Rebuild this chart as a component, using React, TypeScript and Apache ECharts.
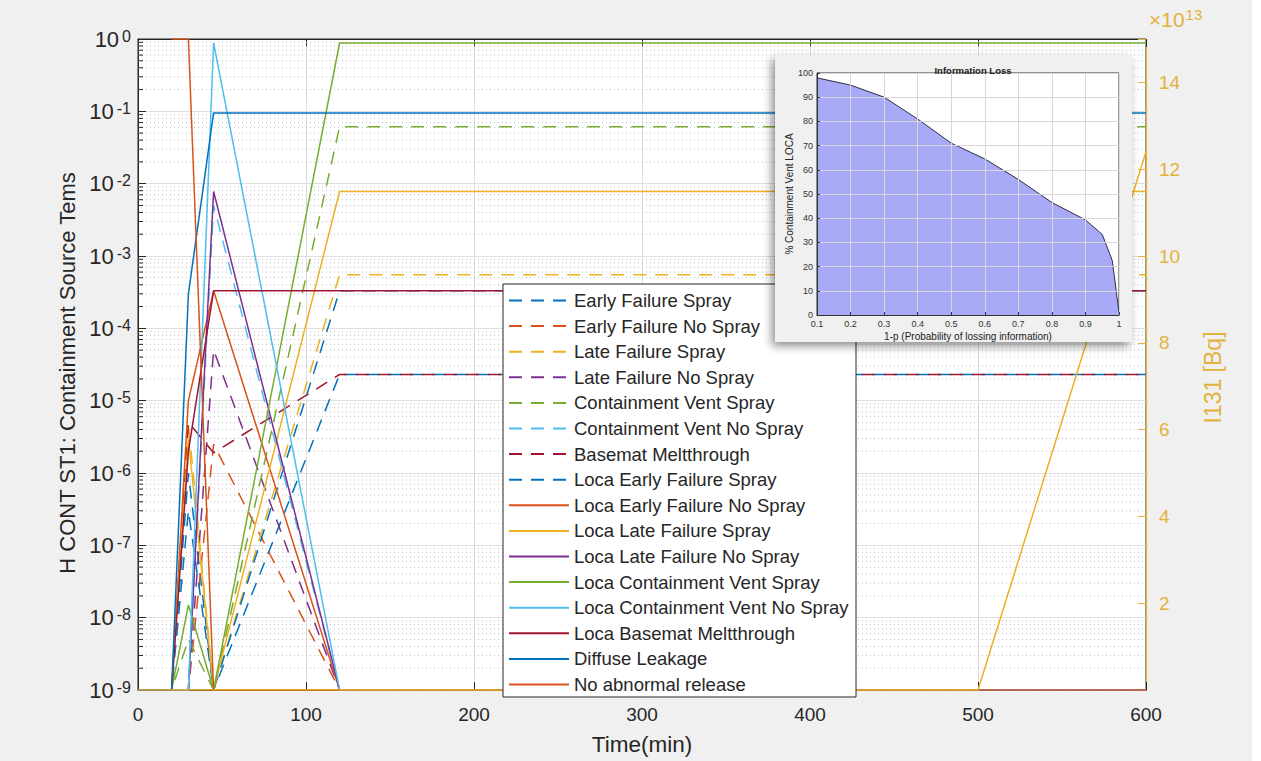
import React, { useEffect, useRef } from 'react';
import * as echarts from 'echarts';

const FONT = '"Liberation Sans", Arial, Helvetica, sans-serif';

// ---- main chart data (time in minutes) ----
const times = [0, 20, 30, 45, 120, 600];
const earlyFailureSpray = [1e-9, 1e-9, 1e-6, 1e-9, 2.3e-5, 2.3e-5];
const earlyFailureNoSpray = [1e-9, 1e-9, 1e-9, 2.5e-6, 1e-9, 1e-9];
const lateFailureSpray = [1e-9, 1e-9, 5e-6, 1e-9, 5.5e-4, 5.5e-4];
const lateFailureNoSpray = [1e-9, 1e-9, 1e-9, 5e-5, 1e-9, 1e-9];
const containmentVentSpray = [1e-9, 1e-9, 5e-9, 1e-9, 0.061, 0.061];
const containmentVentNoSpray = [1e-9, 1e-9, 1e-9, 0.005, 1e-9, 1e-9];
const basematMeltthrough = [1e-9, 1e-9, 5e-6, 1.9e-6, 2.3e-5, 2.3e-5];
const locaEarlyFailureSpray = [1e-9, 1e-9, 3e-7, 1e-9, 3.3e-4, 3.3e-4];
const locaEarlyFailureNoSpray = [1e-9, 1e-9, 1e-5, 3.3e-4, 1e-9, 1e-9];
const locaLateFailureSpray = [1e-9, 1e-9, 3e-6, 1e-9, 0.0078, 0.0078];
const locaLateFailureNoSpray = [1e-9, 1e-9, 1e-9, 0.0078, 1e-9, 1e-9];
const locaContainmentVentSpray = [1e-9, 1e-9, 1.5e-8, 1e-9, 0.88, 0.88];
const locaContainmentVentNoSpray = [1e-9, 1e-9, 1e-9, 0.88, 1e-9, 1e-9];
const locaBasematMeltthrough = [1e-9, 1e-9, 2e-6, 3.3e-4, 3.3e-4, 3.3e-4];
const diffuseLeakage = [1e-9, 1e-9, 3e-4, 0.095, 0.095, 0.095];
const noAbnormalRelease = [null, 1, 1, 1e-9, 1e-9, 1e-9];

const seriesNames = [
  'Early Failure Spray',
  'Early Failure No Spray',
  'Late Failure Spray',
  'Late Failure No Spray',
  'Containment Vent Spray',
  'Containment Vent No Spray',
  'Basemat Meltthrough',
  'Loca Early Failure Spray',
  'Loca Early Failure No Spray',
  'Loca Late Failure Spray',
  'Loca Late Failure No Spray',
  'Loca Containment Vent Spray',
  'Loca Containment Vent No Spray',
  'Loca Basemat Meltthrough',
  'Diffuse Leakage',
  'No abnormal release',
];
const seriesValues = [
  earlyFailureSpray,
  earlyFailureNoSpray,
  lateFailureSpray,
  lateFailureNoSpray,
  containmentVentSpray,
  containmentVentNoSpray,
  basematMeltthrough,
  locaEarlyFailureSpray,
  locaEarlyFailureNoSpray,
  locaLateFailureSpray,
  locaLateFailureNoSpray,
  locaContainmentVentSpray,
  locaContainmentVentNoSpray,
  locaBasematMeltthrough,
  diffuseLeakage,
  noAbnormalRelease,
];
const seriesDashed = [true, true, true, true, true, true, true, true, false, false, false, false, false, false, false, false];

// right axis: I131 [Bq]
const i131Times = [0, 500, 600];
const i131Values = [0, 0, 1.24e14];

// inset: Information Loss
const lossX = [0.1, 0.2, 0.3, 0.4, 0.5, 0.6, 0.7, 0.8, 0.9, 0.95, 0.98, 1.0];
const lossY = [98, 95, 90, 81, 71, 64.5, 56, 46.5, 39.3, 33.3, 22.5, 1];

// log-axis minor grid positions
const minorMultipliers = [2, 3, 4, 5, 6, 7, 8, 9];
const decades = [-9, -8, -7, -6, -5, -4, -3, -2, -1];

const matlabColors = ['#0072BD', '#D95319', '#EDB120', '#7E2F8E', '#77AC30', '#4DBEEE', '#A2142F'];
const AXIS = '#262626';
const YELLOW = '#E3B23C';

export default function App() {
  const ref = useRef<HTMLDivElement>(null);
  useEffect(() => {
    const chart = echarts.init(ref.current!, null, { renderer: 'svg' });

    const minorValues: number[] = [];
    decades.forEach((d) => minorMultipliers.forEach((m) => minorValues.push(m * Math.pow(10, d))));

    const minorGridData: any[] = [];
    const minorTickData: any[] = [];
    minorValues.forEach((v) => {
      minorGridData.push([0, v], [600, v], [600, '-']);
      minorTickData.push([0, v], [3, v], [3, '-']);
    });

    const mainSeries: any[] = seriesNames.map((name, i) => {
      const color = matlabColors[i % matlabColors.length];
      return {
        type: 'line',
        name,
        xAxisIndex: 0,
        yAxisIndex: 0,
        data: times.map((t, k) => [t, seriesValues[i][k] == null ? '-' : seriesValues[i][k]]),
        symbol: 'none',
        silent: true,
        z: 2,
        itemStyle: { color },
        lineStyle: { color, width: 1.5, type: seriesDashed[i] ? [13, 9] : 'solid' },
      };
    });

    const option: any = {
      animation: false,
      textStyle: { fontFamily: FONT },
      title: {
        text: 'Information Loss',
        left: 968,
        top: 60,
        textAlign: 'center',
        z: 8,
        textStyle: { fontSize: 9.5, fontWeight: 'bold', color: '#222', fontFamily: FONT },
      },
      legend: {
        data: seriesNames,
        orient: 'vertical',
        left: 503,
        top: 284,
        padding: [7, 8, 4, 5],
        itemWidth: 60,
        itemHeight: 18,
        itemGap: 6.6,
        selectedMode: false,
        z: 4,
        itemStyle: { color: 'transparent', borderColor: 'transparent', borderWidth: 0, opacity: 0 },
        textStyle: { fontSize: 18.5, color: AXIS, fontFamily: FONT, lineHeight: 18 },
      },
      grid: [
        { left: 138, top: 39, width: 1008, height: 653, show: true, backgroundColor: '#ffffff', borderColor: AXIS, borderWidth: 1, z: 0 },
        { left: 817, top: 73, width: 302, height: 242, show: true, backgroundColor: '#ffffff', borderColor: '#333', borderWidth: 1, z: 6 },
      ],
      xAxis: [
        {
          type: 'value', gridIndex: 0, min: 0, max: 600, interval: 100, position: 'bottom',
          axisLine: { show: true, onZero: false, lineStyle: { color: AXIS } },
          axisTick: { show: true, inside: true, length: 8, lineStyle: { color: AXIS } },
          axisLabel: { fontSize: 19, color: AXIS, margin: 15, fontFamily: FONT },
          splitLine: { show: true, lineStyle: { color: '#dedede', width: 1 } },
          name: 'Time(min)', nameLocation: 'middle', nameGap: 43,
          nameTextStyle: { fontSize: 22.5, color: AXIS, fontFamily: FONT },
        },
        {
          type: 'value', gridIndex: 0, min: 0, max: 600, interval: 100, position: 'top',
          axisLine: { show: true, onZero: false, lineStyle: { color: AXIS } },
          axisTick: { show: true, inside: true, length: 8, lineStyle: { color: AXIS } },
          axisLabel: { show: false },
          splitLine: { show: false },
        },
        {
          type: 'value', gridIndex: 1, min: 0.1, max: 1, interval: 0.1, z: 8,
          axisLine: { show: true, onZero: false, lineStyle: { color: '#333' } },
          axisTick: { show: true, inside: true, length: 3, lineStyle: { color: '#333' } },
          axisLabel: {
            fontSize: 9, color: '#333', margin: 4, fontFamily: FONT,
            formatter: (v: number) => String(Math.round(v * 10) / 10),
          },
          splitLine: { show: true, lineStyle: { color: '#d8d8d8', width: 1 } },
          name: '1-p (Probability of lossing information)', nameLocation: 'middle', nameGap: 16,
          nameTextStyle: { fontSize: 10, color: '#222', fontFamily: FONT },
        },
      ],
      yAxis: [
        {
          type: 'log', gridIndex: 0, logBase: 10, min: 1e-9, max: 1, splitNumber: 9, position: 'left',
          axisLine: { show: true, onZero: false, lineStyle: { color: AXIS } },
          axisTick: { show: true, inside: true, length: 8, lineStyle: { color: AXIS } },
          axisLabel: {
            margin: 7, color: AXIS,
            formatter: (v: number) => `{b|10}{s|${Math.round(Math.log10(v))}}`,
            rich: {
              b: { fontSize: 22, lineHeight: 22, verticalAlign: 'bottom', color: AXIS, fontFamily: FONT },
              s: { fontSize: 16, lineHeight: 16, verticalAlign: 'top', padding: [0, 0, 12, 3], color: AXIS, fontFamily: FONT },
            },
          },
          splitLine: { show: true, lineStyle: { color: '#dedede', width: 1 } },
          name: 'H CONT ST1: Containment Source Tems', nameLocation: 'middle', nameGap: 58, nameRotate: 90,
          nameTextStyle: { fontSize: 22, color: AXIS, fontFamily: FONT, padding: [0, 17, 0, 0] },
        },
        {
          type: 'value', gridIndex: 0, min: 0, max: 1.5e14, interval: 2e13, position: 'right',
          axisLine: { show: true, onZero: false, lineStyle: { color: YELLOW, width: 1.2 } },
          axisTick: { show: true, inside: true, length: 8, lineStyle: { color: YELLOW } },
          axisLabel: {
            fontSize: 19, color: YELLOW, margin: 13, fontFamily: FONT,
            formatter: (v: number) => (v > 0 && Math.abs(v / 2e13 - Math.round(v / 2e13)) < 1e-6 ? String(Math.round(v / 1e13)) : ''),
          },
          splitLine: { show: false },
          name: 'I131 [Bq]', nameLocation: 'middle', nameGap: 55, nameRotate: 90,
          nameTextStyle: { fontSize: 23, color: YELLOW, fontFamily: FONT, padding: [0, 26, 0, 0] },
        },
        {
          type: 'value', gridIndex: 1, min: 0, max: 100, interval: 10, z: 8,
          axisLine: { show: true, onZero: false, lineStyle: { color: '#333' } },
          axisTick: { show: true, inside: true, length: 3, lineStyle: { color: '#333' } },
          axisLabel: { fontSize: 9, color: '#333', margin: 4, fontFamily: FONT },
          splitLine: { show: true, lineStyle: { color: '#d8d8d8', width: 1 } },
          name: '% Containment Vent LOCA', nameLocation: 'middle', nameGap: 20, nameRotate: 90,
          nameTextStyle: { fontSize: 10, color: '#222', fontFamily: FONT },
        },
      ],
      graphic: [
        {
          type: 'rect', z: 3, silent: true,
          shape: { x: 503, y: 284, width: 353, height: 413 },
          style: { fill: '#ffffff', stroke: AXIS, lineWidth: 1 },
        },
        {
          type: 'rect', z: 5, silent: true,
          shape: { x: 775, y: 55, width: 357, height: 287 },
          style: { fill: '#f0f0f0', shadowBlur: 10, shadowColor: 'rgba(0,0,0,0.45)', shadowOffsetX: -3, shadowOffsetY: 4 },
        },
        {
          type: 'text', z: 3, silent: true, x: 1149, y: 7,
          style: {
            text: '{a|×10}{b|13}',
            rich: {
              a: { fontSize: 21, lineHeight: 23, verticalAlign: 'bottom', fill: YELLOW, fontFamily: FONT },
              b: { fontSize: 15, lineHeight: 16, verticalAlign: 'top', padding: [0, 0, 10, 1], fill: YELLOW, fontFamily: FONT },
            },
          },
        },
      ],
      series: [
        {
          type: 'line', name: '_minorGrid', xAxisIndex: 0, yAxisIndex: 0, z: 1, silent: true,
          symbol: 'none', connectNulls: false,
          data: minorGridData,
          lineStyle: { type: [1, 3], color: '#bdbdbd', width: 1 },
        },
        {
          type: 'line', name: '_minorTicks', xAxisIndex: 0, yAxisIndex: 0, z: 1, silent: true,
          symbol: 'none', connectNulls: false,
          data: minorTickData,
          lineStyle: { type: 'solid', color: AXIS, width: 1 },
        },
        ...mainSeries,
        {
          type: 'line', name: 'I131', xAxisIndex: 0, yAxisIndex: 1, symbol: 'none', silent: true, z: 2,
          data: i131Times.map((t, k) => [t, i131Values[k]]),
          itemStyle: { color: '#EDB120' },
          lineStyle: { color: '#EDB120', width: 1.5 },
        },
        {
          type: 'line', name: 'Information Loss', xAxisIndex: 2, yAxisIndex: 2, symbol: 'none', silent: true, z: 7,
          data: lossX.map((x, k) => [x, lossY[k]]),
          lineStyle: { color: '#2e2e48', width: 1 },
          itemStyle: { color: '#2e2e48' },
          areaStyle: { color: '#a9aaf7', opacity: 1 },
        },
      ],
    };

    chart.setOption(option);
    return () => chart.dispose();
  }, []);

  return (
    <div
      style={{
        position: 'absolute', left: 0, top: 0, width: 1261, height: 761,
        background: 'linear-gradient(to right, #f0f0f0 1252px, #ffffff 1252px)',
      }}
    >
      <div ref={ref} style={{ width: 1261, height: 761 }} />
    </div>
  );
}
